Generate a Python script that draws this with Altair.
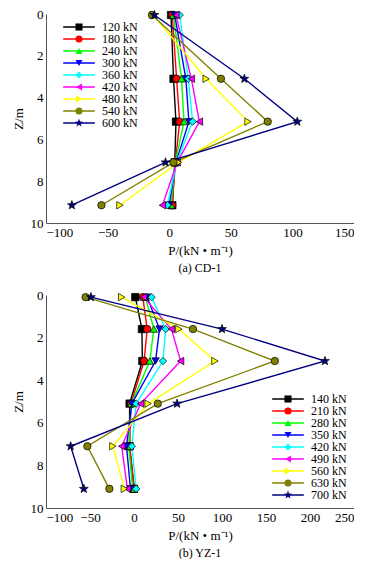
import math
import altair as alt
import pandas as pd

FONT = "Liberation Serif"

# ---------------- Panel (a) CD-1 ----------------
a_depth = [0.05, 3.1, 5.15, 7.1, 9.15]
a_loads = ["120 kN", "180 kN", "240 kN", "300 kN", "360 kN", "420 kN", "480 kN", "540 kN", "600 kN"]
a_120 = [1.5, 3.5, 5.5, 4.5, 2.5]
a_180 = [2.5, 6.0, 8.5, 5.0, 2.5]
a_240 = [3.5, 10.0, 12.0, 5.0, 1.5]
a_300 = [4.5, 13.5, 16.0, 5.5, 0.0]
a_360 = [8.5, 15.5, 19.0, 6.0, -1.5]
a_420 = [5.5, 18.0, 24.5, 6.5, -5.5]
a_480 = [-13.0, 30.0, 64.0, 7.5, -40.0]
a_540 = [-14.0, 42.0, 80.0, 3.5, -55.0]
a_600 = [-12.0, 61.0, 104.0, -3.0, -79.0]

# ---------------- Panel (b) YZ-1 ----------------
b_depth = [0.1, 1.6, 3.1, 5.1, 7.1, 9.1]
b_loads = ["140 kN", "210 kN", "280 kN", "350 kN", "420 kN", "490 kN", "560 kN", "630 kN", "700 kN"]
b_140 = [1.5, 9.0, 9.5, -5.0, -5.0, 0.0]
b_210 = [10.0, 15.0, 11.5, -3.5, -5.0, 0.5]
b_280 = [13.0, 22.5, 18.0, -3.0, -6.0, -1.5]
b_350 = [15.0, 29.0, 24.5, -2.5, -8.5, -4.0]
b_420 = [20.0, 36.0, 33.0, 2.5, -2.5, 2.5]
b_490 = [11.0, 42.5, 53.0, 7.5, -14.0, -7.5]
b_560 = [-14.0, 51.0, 92.0, 16.0, -24.0, -11.0]
b_630 = [-55.0, 67.0, 160.0, 27.0, -53.0, -28.0]
b_700 = [-49.0, 100.0, 217.0, 49.0, -72.0, -57.0]

a_xdomain = [-100, 150]
a_xticks = [-100, -50, 0, 50, 100, 150]
b_xdomain = [-100, 250]
b_xticks = [-100, -50, 0, 50, 100, 150, 200, 250]
y_ticks = [0, 2, 4, 6, 8, 10]

colors = ["#000000", "#FF0000", "#00FF00", "#0000FF", "#00FFFF",
          "#FF00FF", "#FFFF00", "#808000", "#000080"]

# star symbol path
_pts = []
for k in range(10):
    r = 1.25 if k % 2 == 0 else 0.5
    ang = -math.pi / 2 + k * math.pi / 5
    _pts.append(f"{r*math.cos(ang):.3f},{r*math.sin(ang):.3f}")
STAR = "M" + "L".join(_pts) + "Z"

shapes = ["square", "circle", "triangle-up", "triangle-down", "diamond",
          "triangle-left", "triangle-right", "circle", STAR]


def panel(depth, loads, series, xdom, xticks, caption, legx, legy, h):
    rows = []
    for i, (lab, vals) in enumerate(zip(loads, series)):
        for z, p in zip(depth, vals):
            rows.append({"load": lab, "pkey": lab + "*", "Z": z, "P": p, "k": i})
    df = pd.DataFrame(rows)
    pkeys = [l + "*" for l in loads]

    x = alt.X("P:Q", scale=alt.Scale(domain=xdom, nice=False, zero=False),
              axis=alt.Axis(values=xticks, title="P/(kN • m⁻¹)"))
    y = alt.Y("Z:Q", scale=alt.Scale(domain=[0, 10], reverse=True, nice=False, zero=False),
              axis=alt.Axis(values=y_ticks, title="Z/m"))

    leg_line = alt.Legend(title=None, orient="none", legendX=legx, legendY=legy,
                          symbolType="M-5,0H5", symbolSize=40, symbolStrokeWidth=1.5,
                          labelFont=FONT, labelFontSize=12, labelColor="black",
                          labelOffset=17, rowPadding=0, padding=0)
    leg_pt = alt.Legend(title=None, orient="none", legendX=legx, legendY=legy,
                        symbolSize=50, symbolStrokeColor="black", symbolStrokeWidth=0.7,
                        labelFont=FONT, labelFontSize=12, labelExpr="''",
                        labelOffset=17, rowPadding=0, padding=0)

    lines = alt.Chart(df).mark_line(strokeWidth=1.4).encode(
        x=x, y=y,
        color=alt.Color("load:N", scale=alt.Scale(domain=loads, range=colors), legend=leg_line),
        order=alt.Order("Z:Q"),
    )
    pts = alt.Chart(df).mark_point(filled=True, size=55, stroke="black",
                                   strokeWidth=0.7, opacity=1).encode(
        x=x, y=y,
        fill=alt.Fill("pkey:N", scale=alt.Scale(domain=pkeys, range=colors), legend=leg_pt),
        shape=alt.Shape("pkey:N", scale=alt.Scale(domain=pkeys, range=shapes), legend=leg_pt),
    )
    return alt.layer(lines, pts).properties(
        width=308, height=h,
        title=alt.TitleParams(caption, orient="bottom", anchor="middle", fontSize=12,
                              font=FONT, fontWeight="normal", color="black", offset=6),
    )


pa = panel(a_depth, a_loads, [a_120, a_180, a_240, a_300, a_360, a_420, a_480, a_540, a_600],
           a_xdomain, a_xticks, "(a)  CD-1", 27, 7, 209)
pb = panel(b_depth, b_loads, [b_140, b_210, b_280, b_350, b_420, b_490, b_560, b_630, b_700],
           b_xdomain, b_xticks, "(b)  YZ-1", 236, 98, 213)

chart = alt.vconcat(pa, pb, spacing=15).resolve_scale(
    x="independent", color="independent", fill="independent", shape="independent"
).properties(
    padding={"left": 4, "top": 0, "right": 0, "bottom": 0}
).configure_view(stroke=None).configure_axis(
    grid=False, ticks=False, labelFont=FONT, labelFontSize=13, labelColor="black",
    titleFont=FONT, titleFontSize=13, titleFontWeight="normal", titleColor="black",
    domainColor="#555555", labelPadding=3, titlePadding=5,
)

chart.save("out.html", embed_options={"renderer": "svg", "actions": False})
